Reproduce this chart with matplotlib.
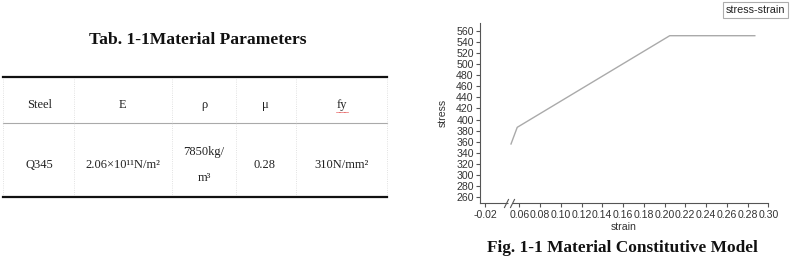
import matplotlib
matplotlib.use('Agg')
import matplotlib.pyplot as plt
import matplotlib.transforms as mtransforms
from matplotlib.lines import Line2D
import numpy as np

# table data
tab_title = "Tab. 1-1Material Parameters"
tab_header = ["Steel", "E", "ρ", "μ", "fy"]
tab_row = ["Q345", "2.06×10¹¹N/m²", "7850kg/\n\nm³", "0.28", "310N/mm²"]

# stress-strain curve
strain = [0.052, 0.058, 0.205, 0.287]
stress = [356, 386, 551, 551]
xticks = [-0.02, 0.06, 0.08, 0.10, 0.12, 0.14, 0.16, 0.18, 0.20, 0.22, 0.24, 0.26, 0.28, 0.30]
yticks = list(range(260, 561, 20))
fig_title = "Fig. 1-1 Material Constitutive Model"

W, H = 800, 258
fig = plt.figure(figsize=(W / 100, H / 100), dpi=100)


def fx(x):
    return x / W


def fy(y):
    return 1 - y / H


serif = "Liberation Serif"
sans = "Liberation Sans"

# ---- table on the left ----
fig.text(fx(198), fy(40), tab_title, family=serif, weight='bold', fontsize=12.6,
         ha='center', va='center', color='#111111')

left, right = 3.3, 386.7
fig.add_artist(Line2D([fx(left), fx(right)], [fy(77.3), fy(77.3)], color='#111111', lw=1.6))
fig.add_artist(Line2D([fx(left), fx(right)], [fy(197.3), fy(197.3)], color='#111111', lw=1.6))
fig.add_artist(Line2D([fx(left), fx(right)], [fy(123.3), fy(123.3)], color='#aaaaaa', lw=0.8))
for xv in [left, 74, 172.3, 235.7, 296, right]:
    fig.add_artist(Line2D([fx(xv), fx(xv)], [fy(78.5), fy(196)], color='#d8d8d8', lw=0.6, ls=':'))

col_x = [39.3, 122.7, 204, 265, 341.7]
for cx, h, v in zip(col_x, tab_header, tab_row):
    fig.text(fx(cx), fy(105), h, family=serif, fontsize=9, ha='center', va='center', color='#222222')
    fig.text(fx(cx), fy(165), v, family=serif, fontsize=9, ha='center', va='center',
             color='#222222', linespacing=1.1)
# spell-check underline under "fy"
fig.add_artist(Line2D([fx(336), fx(348)], [fy(112), fy(112)], color='#e03030', lw=0.6, ls=(0, (1, 0.5))))

# ---- chart on the right ----
brk = 0.05
k = 0.33


def forward(x):
    x = np.asarray(x, dtype=float)
    return np.where(x >= brk, x, brk + (x - brk) * k)


def inverse(x):
    x = np.asarray(x, dtype=float)
    return np.where(x >= brk, x, brk + (x - brk) / k)


ax = fig.add_axes([fx(480), fy(203.3), (768.3 - 480) / W, (203.3 - 22.7) / H])
ax.set_xscale('function', functions=(forward, inverse))
ax.plot(strain, stress, color='#aaaaaa', lw=1.0, label='stress-strain')
ax.set_xlim(-0.0345, 0.30)
ax.set_ylim(249.2, 574.4)
ax.set_xticks(xticks)
ax.set_xticklabels(["%.2f" % t for t in xticks])
ax.set_yticks(yticks)
ax.minorticks_off()

for s in ['top', 'right']:
    ax.spines[s].set_visible(False)
for s in ['left', 'bottom']:
    ax.spines[s].set_color('#555555')
    ax.spines[s].set_linewidth(0.8)
ax.tick_params(axis='both', length=3, width=0.8, color='#555555', labelsize=7.6,
               labelcolor='#333333', pad=1.5)
for lab in ax.get_xticklabels() + ax.get_yticklabels():
    lab.set_family(sans)

ax.set_xlabel('strain', family=sans, fontsize=7.6, color='#333333', labelpad=2)
ax.set_ylabel('stress', family=sans, fontsize=7.6, color='#333333', labelpad=6)

# axis break marks
trans = ax.get_xaxis_transform()
ax.plot([0.046, 0.053], [0, 0], transform=trans, color='white', lw=2.5, solid_capstyle='butt',
        clip_on=False, zorder=5)
slash = [(-0.5, -1), (0.5, 1)]
for off in (-0.028, 0.028):
    ax.plot([brk], [0], transform=trans + mtransforms.ScaledTranslation(off, 0, fig.dpi_scale_trans),
            marker=slash, markersize=6.5, color='#555555', mew=0.8, clip_on=False, zorder=6)

leg = ax.legend(loc='upper right', bbox_to_anchor=(fx(788), fy(2.5)), bbox_transform=fig.transFigure,
                handlelength=0, handletextpad=0, frameon=True, fancybox=False,
                prop={'family': sans, 'size': 7.8}, borderpad=0.25, borderaxespad=0)
for h in leg.legend_handles:
    h.set_visible(False)
leg.get_frame().set_edgecolor('#999999')
leg.get_frame().set_linewidth(0.8)
for t in leg.get_texts():
    t.set_color('#222222')

fig.text(fx(622.7), fy(248.3), fig_title, family=serif, weight='bold', fontsize=12.4,
         ha='center', va='center', color='#111111')

plt.savefig('out.png', dpi=100)
